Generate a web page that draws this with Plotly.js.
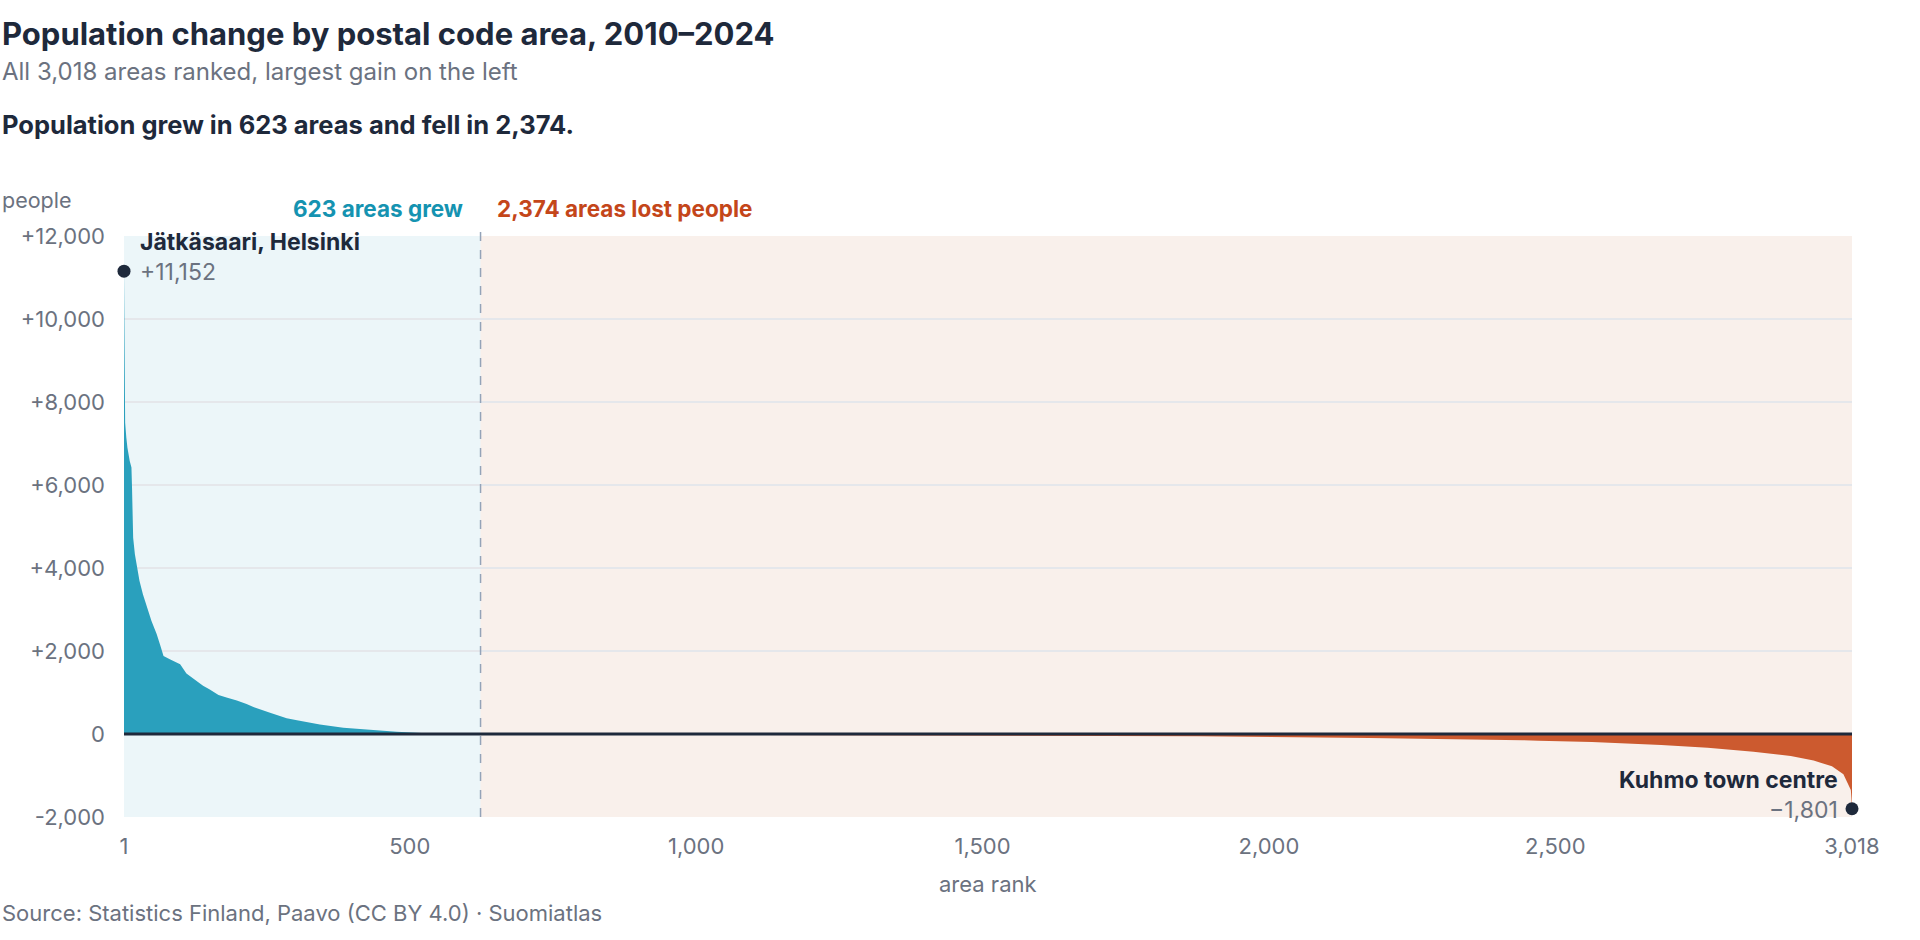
<!DOCTYPE html>
<html>
<head>
<meta charset="utf-8">
<script src="https://cdn.plot.ly/plotly-3.0.1.min.js"></script>
<style>
  html, body { margin: 0; padding: 0; background: #fff; }
  #chart { width: 1920px; height: 940px; }
</style>
</head>
<body>
<div id="chart"></div>
<script>
// Ranked population change per postal code area, 2010-2024.
// Values at key ranks; Plotly joins them.
const grewRanks = [1, 2, 3, 5, 7, 11, 14, 15, 16, 17, 20, 24, 28, 34, 43, 49, 54, 58, 64, 68, 70, 81, 90, 99, 110, 116, 125, 139, 150, 166, 180, 198, 215, 227, 256, 285, 303, 343, 384, 430, 477, 529, 580, 623];
const grewValues = [11152, 8200, 7500, 7150, 6900, 6580, 6420, 5940, 5100, 4730, 4330, 4010, 3690, 3370, 2960, 2720, 2550, 2410, 2150, 1960, 1880, 1800, 1740, 1680, 1460, 1400, 1300, 1160, 1080, 940, 880, 810, 720, 650, 510, 380, 330, 230, 150, 100, 55, 20, 6, 1];

const fellRanks = [624, 800, 1000, 1200, 1500, 1879, 2175, 2322, 2443, 2471, 2564, 2685, 2766, 2846, 2911, 2951, 2983, 3003, 3011, 3015, 3016, 3017, 3018];
const fellValues = [-1, -8, -18, -27, -40, -55, -95, -120, -150, -165, -190, -265, -330, -430, -530, -640, -780, -970, -1200, -1290, -1350, -1550, -1801];

const splitRank = 623.5;
const grewCount = 623;
const fellCount = 2374;

const xTickVals = [1, 500, 1000, 1500, 2000, 2500, 3018];
const xTickText = ['1', '500', '1,000', '1,500', '2,000', '2,500', '3,018'];
const yTickVals = [-2000, 0, 2000, 4000, 6000, 8000, 10000, 12000];
const yTickText = ['-2,000', '0', '+2,000', '+4,000', '+6,000', '+8,000', '+10,000', '+12,000'];

const topArea = { name: 'Jätkäsaari, Helsinki', label: '+11,152', rank: 1, value: 11152 };
const bottomArea = { name: 'Kuhmo town centre', label: '\u22121,801', rank: 3018, value: -1801 };

const TEAL = '#2aa0bd';
const ORANGE = '#cc5a2f';
const INK = '#1e293b';
const GREY = '#6b7280';
const FONT = 'Inter, "Noto Sans", sans-serif';

const traces = [
  {
    type: 'scatter', mode: 'lines', x: grewRanks, y: grewValues,
    fill: 'tozeroy', fillcolor: TEAL, line: { width: 0, color: TEAL },
    hoverinfo: 'skip', showlegend: false
  },
  {
    type: 'scatter', mode: 'lines', x: fellRanks, y: fellValues,
    fill: 'tozeroy', fillcolor: ORANGE, line: { width: 0, color: ORANGE },
    hoverinfo: 'skip', showlegend: false
  },
  {
    type: 'scatter', mode: 'markers',
    x: [topArea.rank, bottomArea.rank], y: [topArea.value, bottomArea.value],
    marker: { size: 13, color: INK }, cliponaxis: false,
    hoverinfo: 'skip', showlegend: false
  }
];

// plot area spans y 236..817 px; paper y for a pixel row
const py = (p) => (817 - p) / 581;
const px = (p) => (p - 124) / 1728;

const layout = {
  width: 1920, height: 940,
  margin: { l: 124, r: 68, t: 236, b: 123 },
  paper_bgcolor: '#ffffff',
  plot_bgcolor: '#ffffff',
  font: { family: FONT, color: GREY, size: 22 },
  showlegend: false,
  xaxis: {
    range: [1, 3018], tickvals: xTickVals, ticktext: xTickText,
    showgrid: false, zeroline: false, showline: false, ticks: '',
    ticklabelstandoff: 14, tickfont: { size: 22, color: GREY }
  },
  yaxis: {
    range: [-2000, 12000], tickvals: yTickVals, ticktext: yTickText,
    showgrid: true, gridcolor: '#e5e7eb', gridwidth: 1.5,
    zeroline: false, showline: false, ticks: '',
    ticklabelstandoff: 18, tickfont: { size: 22, color: GREY }
  },
  shapes: [
    { type: 'rect', layer: 'below', xref: 'paper', yref: 'paper', x0: 0, x1: px(481), y0: 0, y1: 1, fillcolor: '#ecf6f9', line: { width: 0 } },
    { type: 'rect', layer: 'below', xref: 'x', yref: 'paper', x0: splitRank, x1: 3018, y0: 0, y1: 1, fillcolor: '#f9f0eb', line: { width: 0 } },
    { type: 'line', layer: 'above', xref: 'x', yref: 'paper', x0: splitRank, x1: splitRank, y0: 0, y1: py(223), line: { color: '#94a3b8', width: 1.5, dash: 'dash' } },
    { type: 'line', layer: 'above', xref: 'paper', yref: 'y', x0: 0, x1: 1, y0: 0, y1: 0, line: { color: INK, width: 3 } }
  ],
  annotations: [
    { xref: 'paper', yref: 'paper', x: px(0), y: py(33), xanchor: 'left', yanchor: 'middle', showarrow: false,
      text: '<b>Population change by postal code area, 2010\u20132024</b>', font: { size: 31, color: INK } },
    { xref: 'paper', yref: 'paper', x: px(0), y: py(71), xanchor: 'left', yanchor: 'middle', showarrow: false,
      text: 'All 3,018 areas ranked, largest gain on the left', font: { size: 24, color: GREY } },
    { xref: 'paper', yref: 'paper', x: px(0), y: py(125), xanchor: 'left', yanchor: 'middle', showarrow: false,
      text: '<b>Population grew in ' + grewCount + ' areas and fell in ' + fellCount.toLocaleString('en-US') + '.</b>', font: { size: 25.5, color: INK } },
    { xref: 'paper', yref: 'paper', x: px(0), y: py(200), xanchor: 'left', yanchor: 'middle', showarrow: false,
      text: 'people', font: { size: 21.5, color: GREY } },
    { xref: 'x', yref: 'paper', x: splitRank, y: py(208), xanchor: 'right', yanchor: 'middle', xshift: -16, showarrow: false,
      text: '<b>' + grewCount + ' areas grew</b>', font: { size: 22.5, color: '#1593b1' } },
    { xref: 'x', yref: 'paper', x: splitRank, y: py(208), xanchor: 'left', yanchor: 'middle', xshift: 14, showarrow: false,
      text: '<b>' + fellCount.toLocaleString('en-US') + ' areas lost people</b>', font: { size: 22.5, color: '#c4461a' } },
    { xref: 'x', yref: 'y', x: topArea.rank, y: topArea.value, xanchor: 'left', yanchor: 'middle', xshift: 14, yshift: 29, showarrow: false,
      text: '<b>' + topArea.name + '</b>', font: { size: 23, color: INK } },
    { xref: 'x', yref: 'y', x: topArea.rank, y: topArea.value, xanchor: 'left', yanchor: 'middle', xshift: 14, yshift: -1, showarrow: false,
      text: topArea.label, font: { size: 23, color: GREY } },
    { xref: 'x', yref: 'y', x: bottomArea.rank, y: bottomArea.value, xanchor: 'right', yanchor: 'middle', xshift: -12, yshift: 29, showarrow: false,
      text: '<b>' + bottomArea.name + '</b>', font: { size: 23, color: INK } },
    { xref: 'x', yref: 'y', x: bottomArea.rank, y: bottomArea.value, xanchor: 'right', yanchor: 'middle', xshift: -12, yshift: -1, showarrow: false,
      text: bottomArea.label, font: { size: 23, color: GREY } },
    { xref: 'paper', yref: 'paper', x: 0.5, y: py(884), xanchor: 'center', yanchor: 'middle', showarrow: false,
      text: 'area rank', font: { size: 22, color: GREY } },
    { xref: 'paper', yref: 'paper', x: px(0), y: py(913), xanchor: 'left', yanchor: 'middle', showarrow: false,
      text: 'Source: Statistics Finland, Paavo (CC BY 4.0) \u00b7 Suomiatlas', font: { size: 22, color: GREY } }
  ]
};

Plotly.newPlot('chart', traces, layout, { displayModeBar: false, staticPlot: true });
</script>
</body>
</html>
